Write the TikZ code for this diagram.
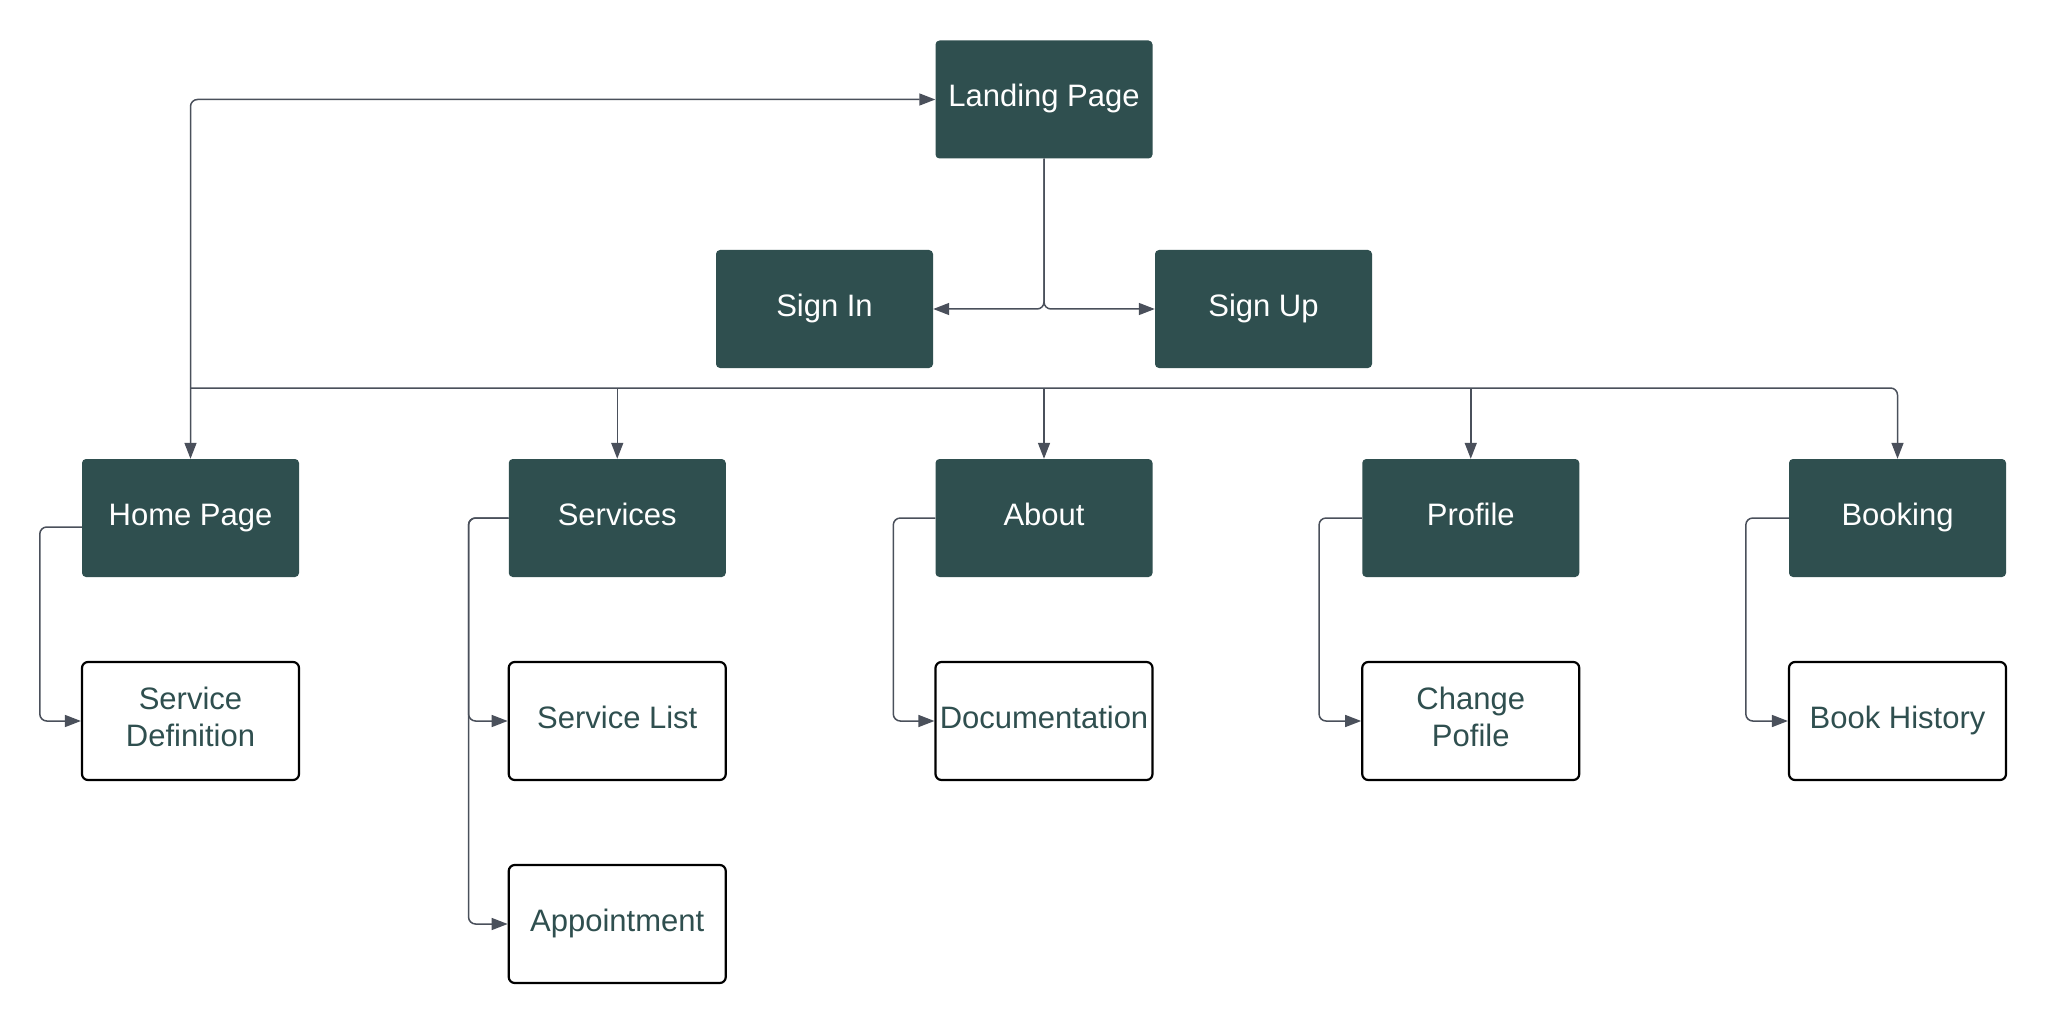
\documentclass[tikz,border=0pt]{standalone}
\usepackage{fontspec}
\setmainfont{Liberation Sans}
\usetikzlibrary{arrows.meta}
\definecolor{boxteal}{HTML}{2F4F4F}
\definecolor{linegray}{HTML}{4A505B}
\begin{document}
\begin{tikzpicture}[x=1pt,y=-1pt,
  parentbox/.style={fill=boxteal, rounded corners=4pt, minimum width=217pt, minimum height=118pt, inner sep=0pt,
    text=white, font=\fontsize{31}{37}\selectfont, align=center, text height=22pt, text depth=7pt},
  childbox/.style={draw=black, line width=2.2pt, fill=white, rounded corners=6pt, minimum width=217pt, minimum height=118pt, inner sep=0pt,
    text=boxteal, font=\fontsize{31}{37}\selectfont, align=center, text height=22pt, text depth=7pt},
  childtwo/.style={draw=black, line width=2.2pt, fill=white, rounded corners=6pt, minimum width=217pt, minimum height=118pt, inner sep=0pt,
    text=boxteal, font=\fontsize{31}{37}\selectfont, align=center, text depth=8pt},
  conn/.style={draw=linegray, line width=1.5pt, rounded corners=7pt, -{Triangle[length=16pt,width=12pt]}},
  bidir/.style={draw=linegray, line width=1.5pt, rounded corners=7pt, {Triangle[length=16pt,width=12pt]}-{Triangle[length=16pt,width=12pt]}}]
\useasboundingbox (0,0) rectangle (2048,1024);
\fill[white] (0,0) rectangle (2048,1024);
% top nodes
\node[parentbox] (landing) at (1044,99.5) {Landing Page};
\node[parentbox] (signin) at (824.5,309) {Sign In};
\node[parentbox] (signup) at (1263.5,309) {Sign Up};
% main row
\node[parentbox] (home) at (190.5,518) {Home Page};
\node[parentbox] (services) at (617.25,518) {Services};
\node[parentbox] (about) at (1044,518) {About};
\node[parentbox] (profile) at (1470.75,518) {Profile};
\node[parentbox] (booking) at (1897.5,518) {Booking};
% children
\node[childtwo] (sdef) at (190.5,721) {Service\\Definition};
\node[childbox] (slist) at (617.25,721) {Service List};
\node[childbox] (appt) at (617.25,924) {Appointment};
\node[childbox] (doc) at (1044,721) {Documentation};
\node[childtwo] (chg) at (1470.75,721) {Change\\Pofile};
\node[childbox] (hist) at (1897.5,721) {Book History};
% bus
\coordinate (busL) at (190.5,388);
% connectors
\draw[bidir] (landing.west) -| (home.north);
\draw[conn] (busL) -| (booking.north);
\draw[conn] (services.north |- busL) -- (services.north);
\draw[conn] (about.north |- busL) -- (about.north);
\draw[conn] (profile.north |- busL) -- (profile.north);
\draw[conn] (landing.south) |- (signin.east);
\draw[conn] (landing.south) |- (signup.west);
\draw[conn] ([yshift=-9pt]home.west) -- ++(-42,0) |- (sdef.west);
\draw[conn] (services.west) -- ++(-40,0) |- (slist.west);
\draw[conn] (services.west) -- ++(-40,0) |- (appt.west);
\draw[conn] (about.west) -- ++(-42,0) |- (doc.west);
\draw[conn] (profile.west) -- ++(-43,0) |- (chg.west);
\draw[conn] (booking.west) -- ++(-43,0) |- (hist.west);
\end{tikzpicture}
\end{document}
